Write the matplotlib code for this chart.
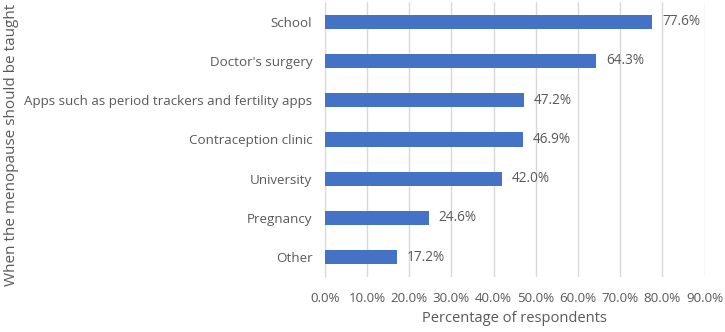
import matplotlib
matplotlib.use("Agg")
import matplotlib.pyplot as plt
from matplotlib.ticker import FuncFormatter, MultipleLocator

categories = ["School", "Doctor's surgery", "Apps such as period trackers and fertility apps",
              "Contraception clinic", "University", "Pregnancy", "Other"]
values = [77.6, 64.3, 47.2, 46.9, 42.0, 24.6, 17.2]

plt.rcParams['font.family'] = ['Open Sans', 'DejaVu Sans']
txt = '#595959'

fig = plt.figure(figsize=(7.25, 3.32), dpi=100)
ax = fig.add_axes([0.448, 0.166, 0.524, 0.828])
y = list(range(len(categories)))
ax.barh(y, values, height=0.36, color='#4472C4', zorder=3)
ax.set_yticks(y)
ax.set_yticklabels(categories, fontsize=9.6, color=txt)
ax.set_ylim(len(categories) - 0.5, -0.5)
ax.set_xlim(0, 90)
ax.xaxis.set_major_locator(MultipleLocator(10))
ax.xaxis.set_major_formatter(FuncFormatter(lambda v, p: f"{v:.1f}%"))
ax.tick_params(axis='x', labelsize=9.6, colors=txt, length=0, pad=11)
ax.tick_params(axis='y', length=0, pad=9)
ax.grid(axis='x', color='#D9D9D9', linewidth=1, zorder=0)
for s in ['top', 'right', 'bottom']:
    ax.spines[s].set_visible(False)
ax.spines['left'].set_color('#D9D9D9')
for yi, v in zip(y, values):
    ax.text(v + 2.3, yi, f"{v:.1f}%", va='center', ha='left', fontsize=9.8, color=txt)
ax.set_xlabel("Percentage of respondents", fontsize=10.5, color=txt, labelpad=4)
fig.text(0.006, 0.565, "When the menopause should be taught", rotation=90, va='center', ha='left',
         fontsize=11, color=txt)
fig.savefig("out.png", dpi=100)
